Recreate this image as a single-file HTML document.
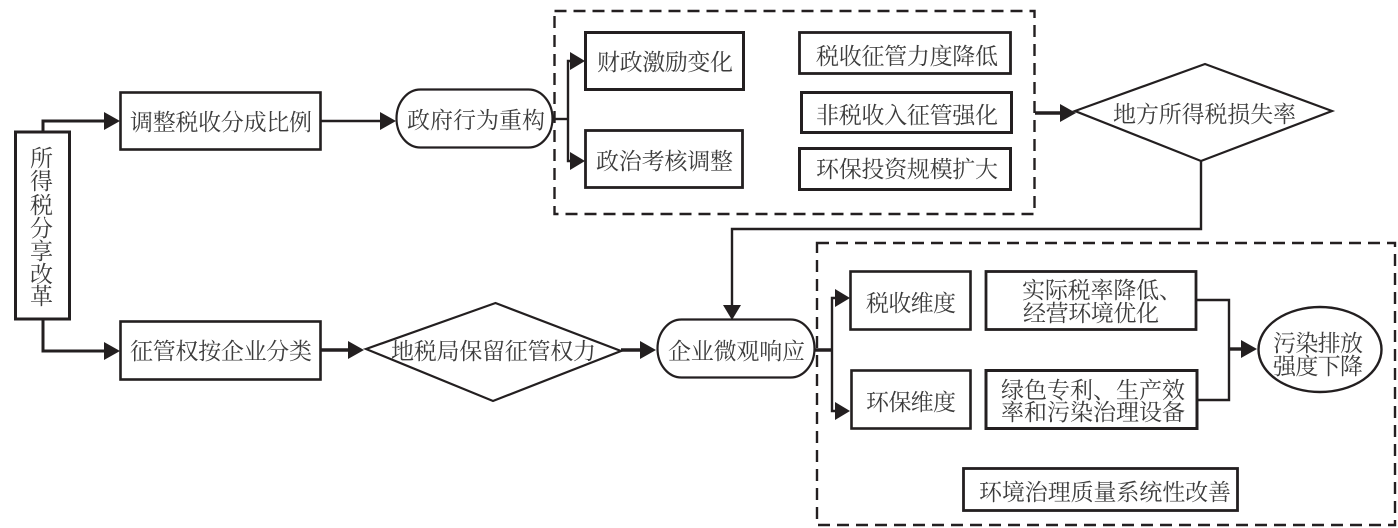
<!DOCTYPE html>
<html lang="zh">
<head>
<meta charset="utf-8">
<title>所得税分享改革</title>
<style>
html,body{margin:0;padding:0;background:#fff;width:1398px;height:528px;overflow:hidden}
svg{display:block;filter:blur(.3px)}
text{font-family:"Liberation Serif","Noto Serif CJK SC",serif;font-size:23px;fill:#3c3c3c}
.b{fill:#fff;stroke:#231f20}
.l{fill:none;stroke:#231f20;stroke-width:2.4}
.h{fill:#231f20;stroke:none}
.d{fill:none;stroke:#231f20;stroke-width:2.4;stroke-dasharray:12 7}
</style>
</head>
<body>
<svg width="1398" height="528" viewBox="0 0 1398 528" xmlns="http://www.w3.org/2000/svg">
<rect width="1398" height="528" fill="#fff"/>

<!-- dashed groups -->
<rect class="d" x="554.500" y="11" width="480" height="203"/>
<rect class="d" x="817" y="243" width="578" height="282"/>

<!-- connectors -->
<polyline class="l" style="stroke-width:3" points="43,131 43,121 106,121"/>
<polyline class="l" points="43,320 43,351 106,351" style="stroke-width:3"/>
<polygon class="h" points="104,112 120,121 104,130"/>
<polygon class="h" points="104,342 120,351 104,360"/>
<line class="l" x1="321" y1="121" x2="382" y2="121"/>
<polygon class="h" points="380,112 396,121 380,130"/>
<polyline class="l" points="553,119 568,119"/>
<polyline class="l" points="573,61 568,61 568,161 573,161"/>
<polygon class="h" points="570,52 585,61 570,70"/>
<polygon class="h" points="570,152 585,161 570,170"/>
<line class="l" style="stroke-width:3.400" x1="1035" y1="113" x2="1062" y2="113"/>
<polygon class="h" points="1060,104 1076,113 1060,122"/>
<polyline class="l" points="1201,161 1201,229 732,229 732,306"/>
<polygon class="h" points="723,305 741,305 732,320"/>
<line class="l" style="stroke-width:3.400" x1="321" y1="350" x2="350" y2="350"/>
<polygon class="h" points="348,341 364,350 348,359"/>
<line class="l" style="stroke-width:3.400" x1="621" y1="350" x2="642" y2="350"/>
<polygon class="h" points="640,341 656,350 640,359"/>
<line class="l" style="stroke-width:3.400" x1="815" y1="350" x2="832" y2="350"/>
<polyline class="l" points="838,298 832,298 832,411 838,411"/>
<polygon class="h" points="835,289 850,298 835,307"/>
<polygon class="h" points="835,402 850,411 835,420"/>
<polyline class="l" points="1196,300 1229,300 1229,400 1197,400"/>
<line class="l" style="stroke-width:3.400" x1="1228" y1="349" x2="1243" y2="349"/>
<polygon class="h" points="1241,340 1257,349 1241,358"/>

<!-- nodes -->
<rect class="b" x="15.500" y="132" width="54" height="187" stroke-width="3"/>
<rect class="b" x="120.500" y="92.500" width="200" height="57" stroke-width="2.600"/>
<rect class="b" x="120.500" y="321.500" width="200" height="58" stroke-width="2.600"/>
<rect class="b" x="396.500" y="89.500" width="156" height="58" rx="24" ry="29" stroke-width="2.200"/>
<rect class="b" x="657.500" y="319.500" width="157" height="58" rx="24" ry="29" stroke-width="2.200"/>
<rect class="b" x="585.500" y="32.500" width="158" height="57" stroke-width="3"/>
<rect class="b" x="585.500" y="130.500" width="157" height="57" stroke-width="2.800"/>
<rect class="b" x="799.500" y="32.500" width="211" height="41" stroke-width="2.800"/>
<rect class="b" x="801.500" y="92.500" width="210" height="40" stroke-width="3"/>
<rect class="b" x="799.500" y="148.500" width="211" height="41" stroke-width="3"/>
<polygon class="b" points="1075,111 1205,64 1332,111 1201,161" stroke-width="2.200"/>
<polygon class="b" points="366,349 495.500,303 621,351 493,401" stroke-width="2.200"/>
<rect class="b" x="850.500" y="271.500" width="120" height="58" stroke-width="2.600"/>
<rect class="b" x="851.500" y="370.500" width="119" height="58" stroke-width="2.600"/>
<rect class="b" x="986" y="271.500" width="210" height="58" stroke-width="2.800"/>
<rect class="b" x="986" y="370.500" width="211" height="58" stroke-width="3"/>
<ellipse class="b" cx="1320" cy="349.500" rx="61.500" ry="42.500" stroke-width="2.400"/>
<rect class="b" x="963.500" y="468.500" width="274" height="42" stroke-width="2.800"/>

<!-- labels -->
<g>
<text x="30" y="166">所</text>
<text x="30" y="189">得</text>
<text x="30" y="213">税</text>
<text x="30" y="236">分</text>
<text x="30" y="259">享</text>
<text x="30" y="282">改</text>
<text x="30" y="304">革</text>
<text x="130" y="130" textLength="182" lengthAdjust="spacing">调整税收分成比例</text>
<text x="407" y="128" textLength="138" lengthAdjust="spacing">政府行为重构</text>
<text x="597" y="70" textLength="136" lengthAdjust="spacing">财政激励变化</text>
<text x="596" y="169" textLength="137" lengthAdjust="spacing">政治考核调整</text>
<text x="816" y="64" textLength="182" lengthAdjust="spacing">税收征管力度降低</text>
<text x="816" y="123" textLength="182" lengthAdjust="spacing">非税收入征管强化</text>
<text x="816" y="177" textLength="182" lengthAdjust="spacing">环保投资规模扩大</text>
<text x="1113" y="122" textLength="183" lengthAdjust="spacing">地方所得税损失率</text>
<text x="130" y="359" textLength="182" lengthAdjust="spacing">征管权按企业分类</text>
<text x="391" y="359" textLength="205" lengthAdjust="spacing">地税局保留征管权力</text>
<text x="668" y="359" textLength="137" lengthAdjust="spacing">企业微观响应</text>
<text x="866" y="311" textLength="90" lengthAdjust="spacing">税收维度</text>
<text x="866" y="410" textLength="90" lengthAdjust="spacing">环保维度</text>
<text x="1022" y="298" textLength="160" lengthAdjust="spacing">实际税率降低、</text>
<text x="1023" y="321" textLength="136" lengthAdjust="spacing">经营环境优化</text>
<text x="1001" y="398" textLength="184" lengthAdjust="spacing">绿色专利、生产效</text>
<text x="1001" y="420" textLength="184" lengthAdjust="spacing">率和污染治理设备</text>
<text x="1273" y="351" textLength="90" lengthAdjust="spacing">污染排放</text>
<text x="1273" y="374" textLength="90" lengthAdjust="spacing">强度下降</text>
<text x="979" y="500" textLength="252" lengthAdjust="spacing">环境治理质量系统性改善</text>
</g>
</svg>
</body>
</html>
